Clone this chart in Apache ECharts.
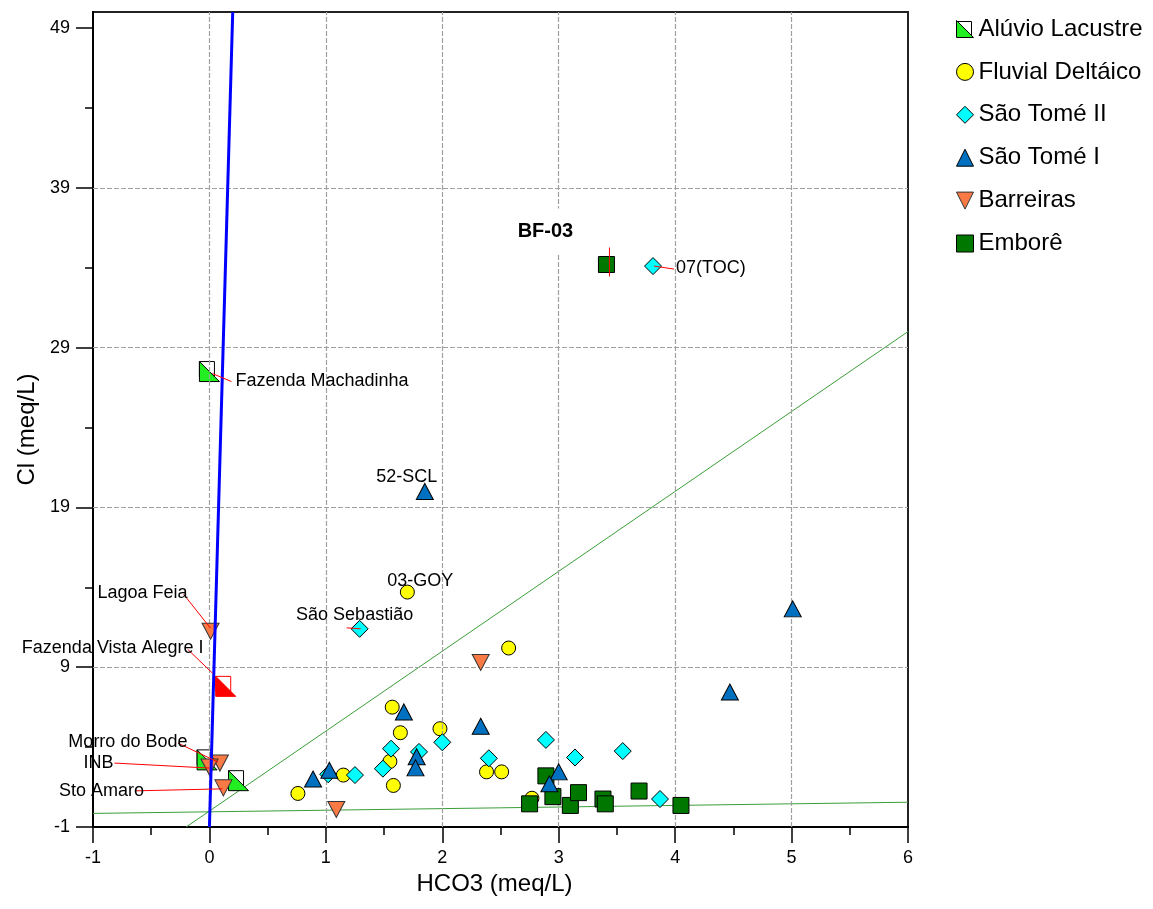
<!DOCTYPE html>
<html>
<head>
<meta charset="utf-8">
<script src="https://cdn.jsdelivr.net/npm/echarts@6/dist/echarts.min.js"></script>
<style>
  html, body { margin: 0; padding: 0; background: #fff; }
  #chart { width: 1153px; height: 909px; }
</style>
</head>
<body>
<div id="chart"></div>
<script>
// Cl versus HCO3 (meq/L) for the groundwater groups

// axis ticks
const xTicks = [-1, 0, 1, 2, 3, 4, 5, 6];
const xMinorTicks = [-0.5, 0.5, 1.5, 2.5, 3.5, 4.5, 5.5];
const yTicks = [-1, 9, 19, 29, 39, 49];
const yMinorTicks = [4, 14, 24, 34, 44];
const gridX = [0, 1, 2, 3, 4, 5];
const gridY = [9, 19, 29, 39];

// groups shown in the legend
const groupNames = ['Alúvio Lacustre', 'Fluvial Deltáico', 'São Tomé II', 'São Tomé I', 'Barreiras', 'Emborê'];

// samples: [HCO3, Cl]
const aluvioLacustre = [[0.00, 27.5], [0.14, 7.8], [-0.02, 3.2], [0.25, 1.9]];
const fluvialDeltaico = [[1.70, 13.7], [2.57, 10.2], [0.76, 1.1], [1.15, 2.25], [1.57, 6.5], [1.64, 4.9],
  [1.55, 3.1], [1.58, 1.6], [1.98, 5.15], [2.38, 2.45], [2.51, 2.45], [2.77, 0.8]];
const saoTomeII = [[1.29, 11.4], [3.81, 34.1], [1.02, 2.3], [1.25, 2.25], [1.56, 3.9], [1.80, 3.7],
  [1.49, 2.65], [2.00, 4.3], [2.40, 3.3], [2.89, 4.45], [3.14, 3.35], [3.55, 3.75], [3.87, 0.75]];
const saoTomeI = [[1.85, 20.0], [5.01, 12.65], [4.47, 7.45], [0.89, 2.0], [1.03, 2.55], [1.67, 6.2],
  [1.78, 3.4], [1.77, 2.7], [2.33, 5.3], [3.00, 2.45], [2.92, 1.7]];
const barreiras = [[0.01, 11.25], [0.09, 3.0], [0.00, 2.75], [0.12, 1.45], [1.09, 0.1], [2.33, 9.3]];
const embore = [[3.41, 34.2], [2.89, 2.2], [2.75, 0.45], [2.95, 0.9], [3.10, 0.35], [3.17, 1.15],
  [3.38, 0.75], [3.40, 0.45], [3.69, 1.25], [4.05, 0.35]];

// reference lines (end points)
const blueLine = [[0, -1], [0.2, 50]];
const upperGreenLine = [[-0.2, -1], [6, 30]];
const lowerGreenLine = [[-1, -0.15], [6, 0.55]];

// named samples
const annotations = [
  { text: 'Fazenda Machadinha', group: 'aluvio', i: 0 },
  { text: 'BF-03', group: 'embore', i: 0 },
  { text: '07(TOC)', group: 'saoTomeII', i: 1 },
  { text: '52-SCL', group: 'saoTomeI', i: 0 },
  { text: '03-GOY', group: 'fluvial', i: 0 },
  { text: 'São Sebastião', group: 'saoTomeII', i: 0 },
  { text: 'Lagoa Feia', group: 'barreiras', i: 0 },
  { text: 'Fazenda Vista Alegre I', group: 'aluvio', i: 1 },
  { text: 'Morro do Bode', group: 'barreiras', i: 1 },
  { text: 'INB', group: 'barreiras', i: 2 },
  { text: 'Sto Amaro', group: 'barreiras', i: 3 }
];
const highlightedAluvio = 1;

const groupData = {
  aluvio: aluvioLacustre, fluvial: fluvialDeltaico, saoTomeII: saoTomeII,
  saoTomeI: saoTomeI, barreiras: barreiras, embore: embore
};

// label placement in pixels relative to the sample: text anchor, leader line, optional backdrop
const labelPlacement = {
  'Fazenda Machadinha':     { text: [26, 9], align: 'left', line: [3, 2, 22, 10] },
  'BF-03':                  { text: [-61, -33], align: 'center', line: [3, -17, 3, 12], bold: true, box: [-98, -56, 100, 45] },
  '07(TOC)':                { text: [23, 2], align: 'left', line: [1, 0, 21, 3] },
  '52-SCL':                 { text: [-18, -14], align: 'center' },
  '03-GOY':                 { text: [13, -11], align: 'center' },
  'São Sebastião':          { text: [-5, -14], align: 'center', line: [-13, -1, 1, 0] },
  'Lagoa Feia':             { text: [-68, -38], align: 'center', line: [-27, -37, 0, -3] },
  'Fazenda Vista Alegre I': { text: [-113, -38], align: 'center', line: [-38, -37, -13, -13] },
  'Morro do Bode':          { text: [-92, -21], align: 'center', line: [-42, -20, -2, -1] },
  'INB':                    { text: [-111, -4], align: 'center', line: [-95, -4, 0, 1] },
  'Sto Amaro':              { text: [-122, 3], align: 'center', line: [-88, 3, -1, 1] }
};

const FONT = "'Liberation Sans', Arial, Helvetica, sans-serif";
const frameName = 'aluvio-frame';
const TRI_DOWN = 'path://M0,0L20,0L10,20Z';
const TRI_CORNER = 'path://M0,0L0,20L20,20Z';

const chart = echarts.init(document.getElementById('chart'), null, { renderer: 'canvas' });

function aluvioItems(frame) {
  return aluvioLacustre.map((p, k) => {
    const item = { value: p };
    if (k === highlightedAluvio) {
      item.itemStyle = frame ? { borderColor: '#ff0000' } : { color: '#ff0000', borderColor: '#ff0000' };
    }
    return item;
  });
}

const annotationData = annotations.map((a, k) => {
  const p = groupData[a.group][a.i];
  return [p[0], p[1], k];
});

function markerStyle(color, border) {
  return { color: color, borderColor: border || '#000', borderWidth: 1, opacity: 1 };
}

const option = {
  animation: false,
  backgroundColor: '#fff',
  grid: { left: 93, right: 245, top: 12, bottom: 82, show: true, borderColor: '#222', borderWidth: 2, backgroundColor: '#fff' },
  xAxis: [
    {
      type: 'value', min: -1, max: 6, position: 'bottom',
      name: 'HCO3 (meq/L)', nameLocation: 'middle', nameGap: 43,
      nameTextStyle: { fontSize: 24, fontFamily: FONT, color: '#000', padding: [0, 12, 0, 0] },
      axisLine: { show: true, onZero: false, lineStyle: { color: '#000', width: 2 } },
      axisTick: { show: true, inside: false, length: 16, customValues: xTicks, lineStyle: { color: '#000', width: 1.5 } },
      axisLabel: { customValues: xTicks, fontSize: 18, fontFamily: FONT, color: '#000', margin: 22 },
      splitLine: { show: false }
    },
    {
      type: 'value', min: -1, max: 6, position: 'bottom',
      axisLine: { show: false, onZero: false },
      axisTick: { show: true, inside: false, length: 8, customValues: xMinorTicks, lineStyle: { color: '#000', width: 1.5 } },
      axisLabel: { show: false },
      splitLine: { show: false }
    }
  ],
  yAxis: [
    {
      type: 'value', min: -1, max: 50, position: 'left',
      name: 'Cl (meq/L)', nameLocation: 'middle', nameGap: 53,
      nameTextStyle: { fontSize: 24, fontFamily: FONT, color: '#000', padding: [0, 20, 0, 0] },
      axisLine: { show: true, onZero: false, lineStyle: { color: '#000', width: 2 } },
      axisTick: { show: true, inside: false, length: 17, customValues: yTicks, lineStyle: { color: '#000', width: 1.5 } },
      axisLabel: { customValues: yTicks, fontSize: 18, fontFamily: FONT, color: '#000', margin: 23 },
      splitLine: { show: false }
    },
    {
      type: 'value', min: -1, max: 50, position: 'left',
      axisLine: { show: false, onZero: false },
      axisTick: { show: true, inside: false, length: 8, customValues: yMinorTicks, lineStyle: { color: '#000', width: 1.5 } },
      axisLabel: { show: false },
      splitLine: { show: false }
    }
  ],
  legend: [
    {
      orient: 'vertical', left: 956, top: 17, padding: 0, itemGap: 18.9,
      itemWidth: 17, itemHeight: 17, selectedMode: false, z: 6,
      textStyle: { fontSize: 24, fontFamily: FONT, color: '#000' },
      data: [
        { name: groupNames[0], icon: TRI_CORNER, itemStyle: markerStyle('#22ee22') },
        { name: groupNames[1], icon: 'circle', itemStyle: markerStyle('#ffff00') },
        { name: groupNames[2], icon: 'diamond', itemStyle: markerStyle('#00ffff') },
        { name: groupNames[3], icon: 'triangle', itemStyle: markerStyle('#0070c0') },
        { name: groupNames[4], icon: TRI_DOWN, itemStyle: markerStyle('#fa7a45', '#333') },
        { name: groupNames[5], icon: 'rect', itemStyle: markerStyle('#007800') }
      ]
    },
    {
      orient: 'vertical', left: 956, top: 21, padding: 0,
      itemWidth: 15, itemHeight: 15, selectedMode: false, z: 5,
      formatter: () => '',
      textStyle: { fontSize: 1, color: 'rgba(0,0,0,0)' },
      data: [{ name: frameName, icon: 'rect', itemStyle: markerStyle('#fff') }]
    }
  ],
  series: [
    {
      name: 'upper-green', type: 'line', data: upperGreenLine, showSymbol: false, symbol: 'none', z: 1, silent: true,
      lineStyle: { color: '#3a9e3a', width: 1 },
      markLine: {
        silent: true, symbol: ['none', 'none'], label: { show: false },
        lineStyle: { color: '#a0a0a0', width: 1.2, type: [5, 2] },
        data: gridX.map(v => ({ xAxis: v })).concat(gridY.map(v => ({ yAxis: v })))
      }
    },
    {
      name: 'lower-green', type: 'line', data: lowerGreenLine, showSymbol: false, symbol: 'none', z: 1, silent: true,
      lineStyle: { color: '#3a9e3a', width: 1 }
    },
    {
      name: frameName, type: 'scatter', data: aluvioItems(true), z: 2,
      symbol: 'rect', symbolSize: 15, symbolOffset: [-2.5, -2.5],
      itemStyle: markerStyle('#fff')
    },
    {
      name: groupNames[0], type: 'scatter', data: aluvioItems(false), z: 3,
      symbol: TRI_CORNER, symbolSize: 20,
      itemStyle: markerStyle('#22ee22')
    },
    {
      name: groupNames[1], type: 'scatter', data: fluvialDeltaico, z: 4,
      symbol: 'circle', symbolSize: 14,
      itemStyle: markerStyle('#ffff00')
    },
    {
      name: groupNames[5], type: 'scatter', data: embore, z: 5,
      symbol: 'rect', symbolSize: 16,
      itemStyle: markerStyle('#007800')
    },
    {
      name: groupNames[2], type: 'scatter', data: saoTomeII, z: 6,
      symbol: 'diamond', symbolSize: 17,
      itemStyle: markerStyle('#00ffff')
    },
    {
      name: groupNames[3], type: 'scatter', data: saoTomeI, z: 7,
      symbol: 'triangle', symbolSize: [17, 16],
      itemStyle: markerStyle('#0070c0')
    },
    {
      name: groupNames[4], type: 'scatter', data: barreiras, z: 8,
      symbol: TRI_DOWN, symbolSize: [17, 16],
      itemStyle: markerStyle('#fa7a45', '#333')
    },
    {
      name: 'ratio-line', type: 'line', data: blueLine, showSymbol: false, symbol: 'none', z: 9, silent: true,
      lineStyle: { color: '#0000ff', width: 3 }
    },
    {
      name: 'sample-names', type: 'custom', coordinateSystem: 'cartesian2d', clip: false, z: 10, silent: true,
      data: annotationData,
      renderItem: function (params, api) {
        const a = annotations[api.value(2)];
        const s = labelPlacement[a.text];
        const c = api.coord([api.value(0), api.value(1)]);
        const children = [];
        if (s.box) {
          children.push({ type: 'rect', shape: { x: c[0] + s.box[0], y: c[1] + s.box[1], width: s.box[2], height: s.box[3] }, style: { fill: '#fff' } });
        }
        if (s.line) {
          children.push({ type: 'line', shape: { x1: c[0] + s.line[0], y1: c[1] + s.line[1], x2: c[0] + s.line[2], y2: c[1] + s.line[3] }, style: { stroke: '#ff0000', lineWidth: 1 } });
        }
        children.push({
          type: 'text', x: c[0] + s.text[0], y: c[1] + s.text[1],
          style: {
            text: a.text, fill: '#000', align: s.align, verticalAlign: 'middle',
            font: (s.bold ? 'bold 20px ' : '18px ') + FONT
          }
        });
        return { type: 'group', children: children };
      }
    }
  ]
};

chart.setOption(option);
</script>
</body>
</html>
